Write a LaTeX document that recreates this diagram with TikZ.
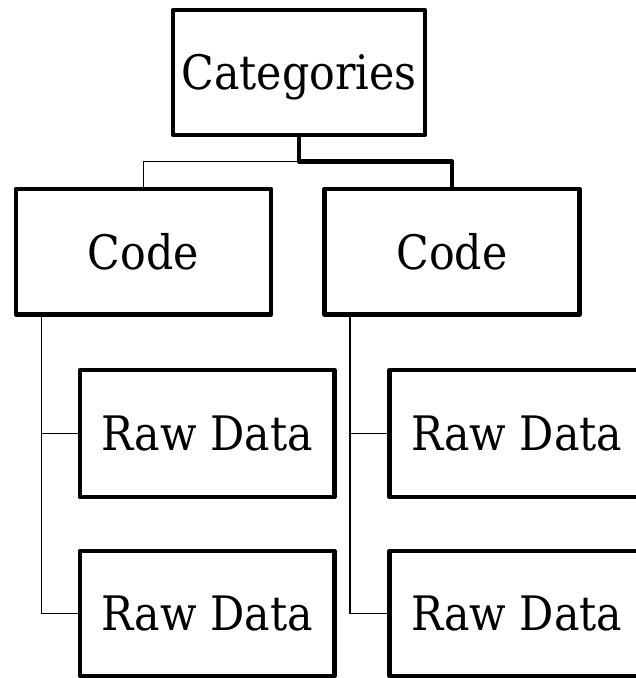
\documentclass[tikz,border=0pt]{standalone}
\usepackage{fontspec}
\setmainfont{DejaVu Serif Condensed}
\usetikzlibrary{calc}
\tikzset{
  box/.style={draw, rectangle, line width=4.5pt, line join=round,
    inner sep=0pt, outer sep=0pt, text height=34.6pt, text depth=0pt,
    font=\fontsize{47.5}{52}\selectfont},
  catbox/.style={box, minimum width=252pt, minimum height=125pt},
  codebox/.style={box, minimum width=255pt, minimum height=125.5pt},
  rawbox/.style={box, minimum width=254.5pt, minimum height=127pt},
  thinline/.style={line width=1.4pt},
  thickline/.style={line width=4.5pt, line join=round},
}
\begin{document}
\begin{tikzpicture}[x=1pt, y=-1pt]
  \useasboundingbox (0,0) rectangle (636,678);
  \clip (0,0) rectangle (636,678);

  % top level
  \node[catbox] (cat) at (299,72.5) {Categories};

  % second level
  \node[codebox] (codeL) at (143.5,251.75) {Code};
  \node[codebox] (codeR) at (452,251.75) {Code};

  % leaves
  \node[rawbox] (rawL1) at (207.25,433.5) {Raw Data};
  \node[rawbox, minimum height=125pt] (rawL2) at (207.25,613.5) {Raw Data};
  \node[rawbox] (rawR1) at (516.75,433.5) {Raw Data};
  \node[rawbox, minimum height=125pt] (rawR2) at (516.75,613.5) {Raw Data};

  % connectors from the top box
  \coordinate (split) at ($(cat.south)+(0,26.5)$);
  \draw[thickline] (cat.south) -- (split) -| (codeR.north);
  \draw[thinline] (split) -| (codeL.north);

  % side spines of each list
  \coordinate (spineL) at ($(codeL.south west)!0.1!(codeL.south east)$);
  \coordinate (spineR) at ($(codeR.south west)!0.1!(codeR.south east)$);
  \draw[thinline] (spineL) |- (rawL2.west);
  \draw[thinline] (spineL |- rawL1.west) -- (rawL1.west);
  \draw[thinline] (spineR) |- (rawR2.west);
  \draw[thinline] (spineR |- rawR1.west) -- (rawR1.west);
\end{tikzpicture}
\end{document}
